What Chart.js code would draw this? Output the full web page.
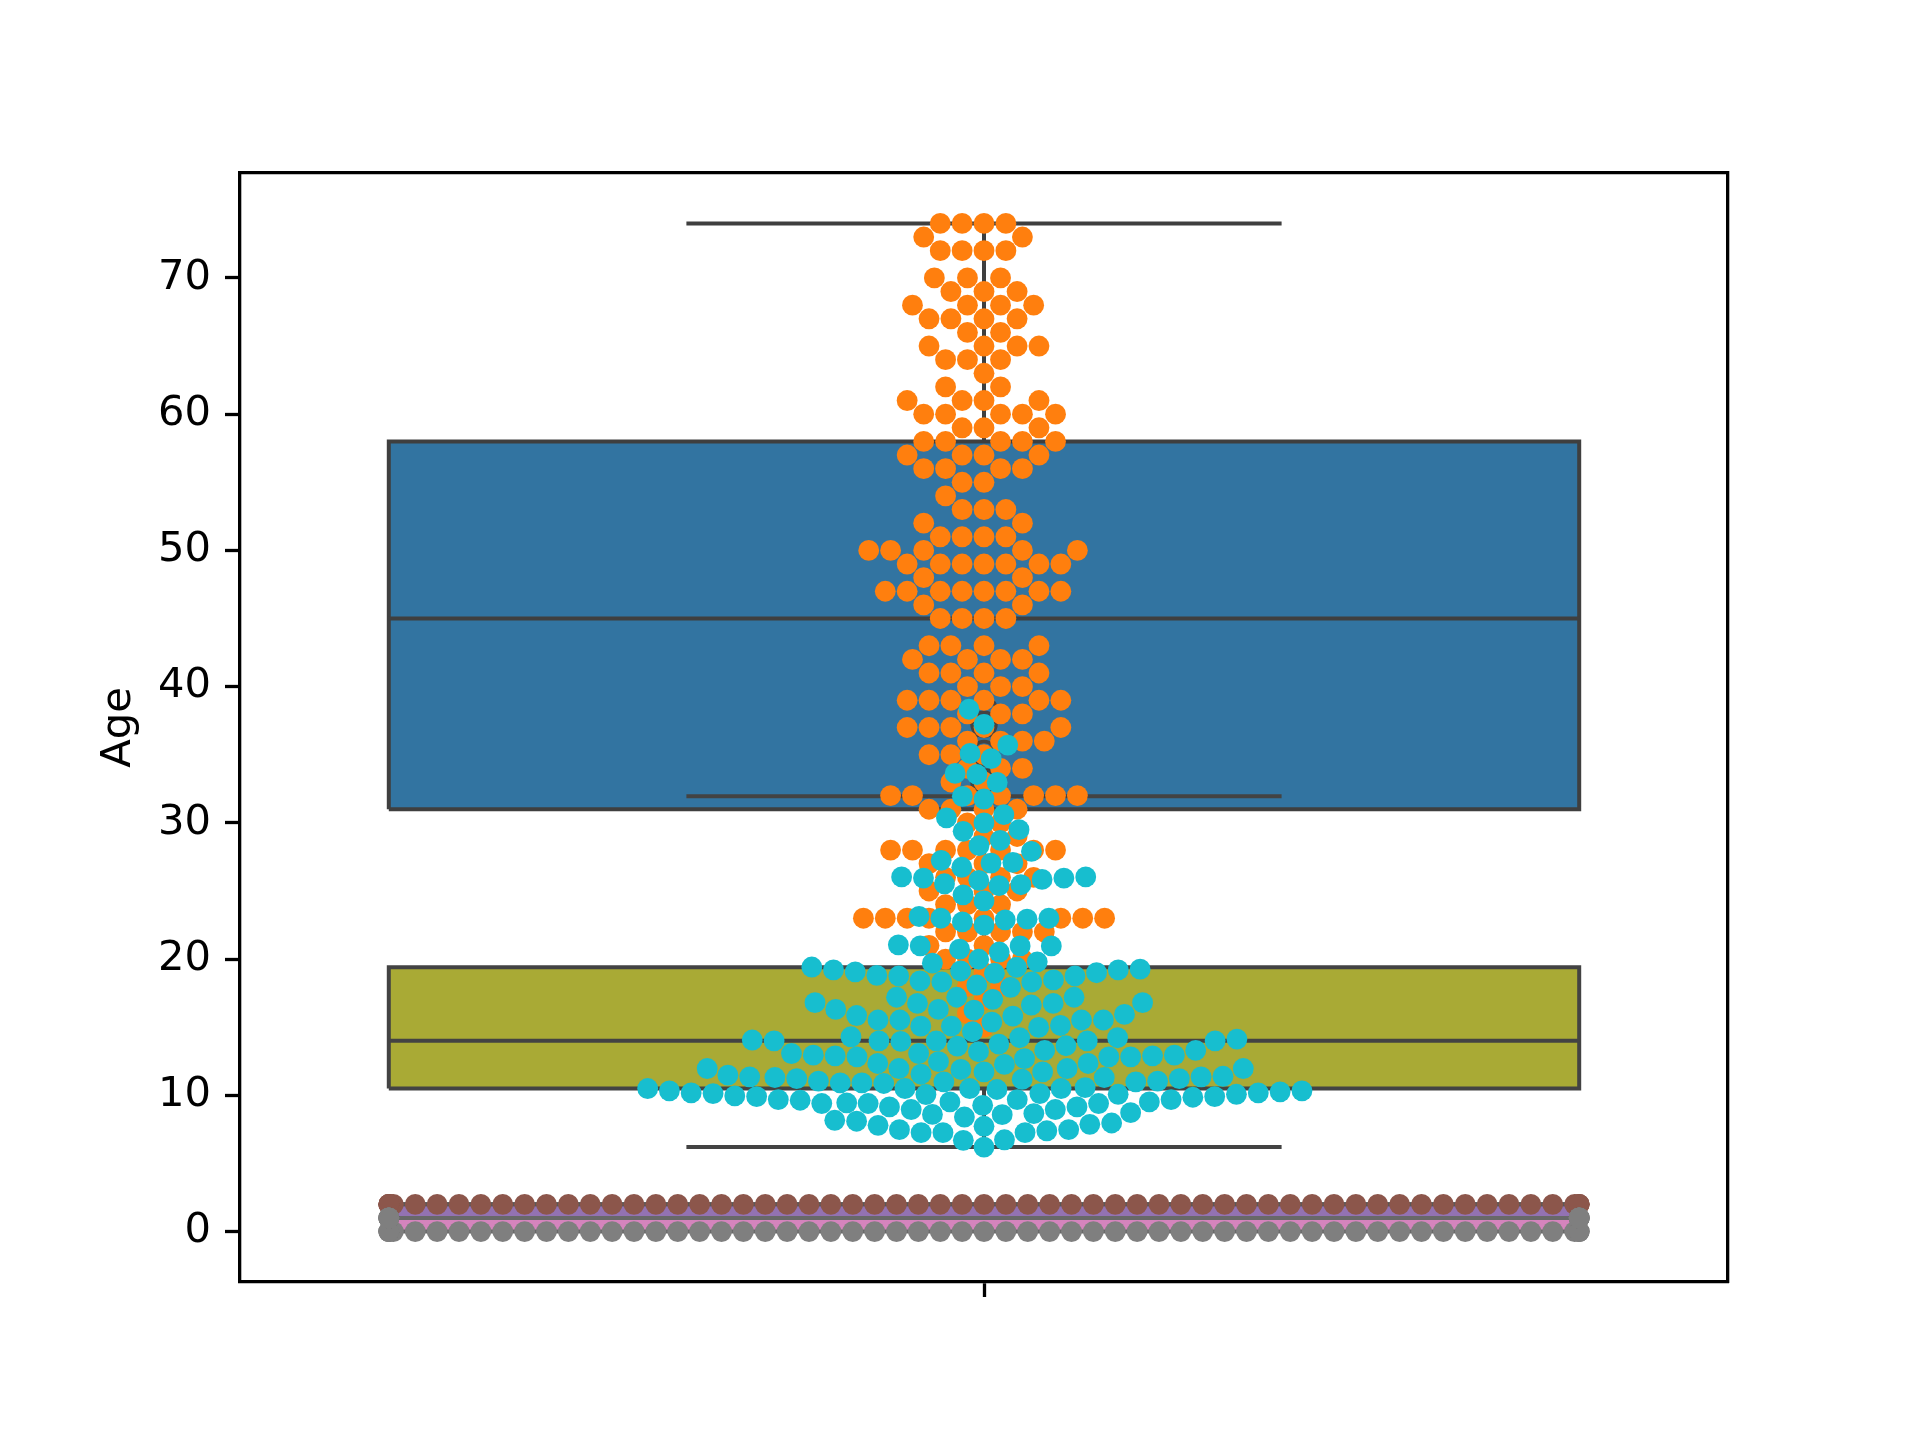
<!DOCTYPE html>
<html>
<head>
<meta charset="utf-8">
<script src="https://cdn.jsdelivr.net/npm/chart.js@4/dist/chart.umd.min.js"></script>
<style>html,body{margin:0;padding:0;background:#ffffff}canvas{display:block}</style>
</head>
<body>
<canvas id="c" width="1920" height="1440" style="width:1920px;height:1440px"></canvas>
<script>
// ---------------- data ----------------
const yTicks = [0, 10, 20, 30, 40, 50, 60, 70];
const xTickValues = [0];
const xTickLabels = [''];
const yLabel = 'Age';

// orange swarm (ages)
const orangeAges = [
  74,74,74,74, 73,73, 72,72,72,72, 70,70,70, 69,69,69, 68,68,68,68, 67,67,67,67,
  66,66, 65,65,65,65, 64,64,64, 63, 62,62, 61,61,61,61, 60,60,60,60,60, 59,59,59,
  58,58,58,58,58, 57,57,57,57, 56,56,56,56, 55,55, 54, 53,53,53, 52,52, 51,51,51,51,
  50,50,50,50,50, 49,49,49,49,49,49,49, 48,48, 47,47,47,47,47,47,47,47, 46,46,
  45,45,45,45, 43,43,43,43, 42,42,42,42, 41,41,41,41, 40,40,40, 39,39,39,39,39,39,
  38,38,38, 37,37,37,37,37, 36,36,36,36, 35,35,35, 34,34,34, 33,33,
  32,32,32,32,32,32,32, 31,31,31,31, 30,30, 29,29, 28,28,28,28,28,28,28,
  27,27,27, 26,26,26,26, 25,25,25, 24,24,24, 23,23,23,23,23,23,23,23,
  22,22,22,22,22, 21,21, 20,20,20,20, 19, 18,18, 17, 16, 15
];

// brown swarm
const brownValues = [
  2,2,2,2,2,2,2,2,2,2, 2,2,2,2,2,2,2,2,2,2, 2,2,2,2,2,2,2,2,2,2,
  2,2,2,2,2,2,2,2,2,2, 2,2,2,2,2,2,2,2,2,2, 2,2,2,2,2,2,2,2,2,2, 2,2
];

// gray swarm
const grayValues = [
  0,0,0,0,0,0,0,0,0,0, 0,0,0,0,0,0,0,0,0,0, 0,0,0,0,0,0,0,0,0,0,
  0,0,0,0,0,0,0,0,0,0, 0,0,0,0,0,0,0,0,0,0, 0,0,0,0,0,0,0,0,0,0, 0,0,
  1,1,1,1,1,1,1,1,1,1
];

// cyan swarm
const cyanValues = [
  38.34, 37.23, 35.71, 35.10, 34.71, 33.63, 33.55, 32.97, 31.95, 31.75,
  30.60, 30.37, 30.00, 29.50, 29.38, 28.72, 28.33, 27.91, 27.25, 27.10,
  27.05, 26.74, 26.03, 25.95, 25.53, 25.78, 25.39, 25.46, 25.85, 25.95,
  26.03, 24.72, 24.28, 23.13, 23.00, 22.73, 22.50, 22.88, 22.93, 23.00,
  20.97, 20.73, 20.97, 20.52, 20.97, 21.05, 19.99, 19.80, 19.42, 19.70,
  19.26, 19.21, 19.00, 18.96, 18.81, 18.47, 18.32, 18.32, 17.93, 18.10,
  18.40, 18.76, 18.76, 19.06, 19.13, 19.21, 19.40,
  17.20, 17.20, 17.05, 16.80, 16.75, 16.31, 16.26, 16.63, 16.75, 16.80, 17.20, 16.31,
  15.94, 15.82, 15.53, 15.38, 15.08, 15.08, 14.67, 15.53, 14.99, 15.13, 15.53, 15.53, 15.86,
  14.23, 14.00, 14.23, 14.00, 14.00, 13.61, 13.07, 13.96, 13.30, 12.95, 13.76, 12.83,
  13.30, 13.64, 14.00, 14.13, 14.30, 14.00, 14.06,
  13.20, 12.95, 12.83, 12.90, 12.47, 12.34, 12.34, 11.72, 11.97, 12.27, 12.70, 12.90, 12.83, 13.07,
  11.90, 11.55, 11.40, 11.23, 11.72, 11.97,
  11.97, 11.36, 11.31, 11.23, 11.04, 10.99, 10.99, 10.87, 10.50, 10.13, 10.91, 10.33,
  10.50, 10.18, 10.33, 10.91, 10.50, 11.04, 11.18, 11.31, 11.36, 11.48, 11.97,
  10.50, 10.18, 10.06, 9.96, 9.91, 9.69, 9.64, 9.52, 9.45, 9.40, 9.15, 8.96, 8.58, 9.40,
  9.27, 9.86, 10.08, 10.26, 9.40, 9.15, 9.52, 9.69, 9.69, 9.91, 10.08, 10.13, 10.43, 10.57,
  8.17, 8.10, 7.87, 7.48, 7.40, 7.26, 8.41, 7.73, 8.60, 8.66, 8.73, 8.96, 7.97, 7.80,
  7.48, 7.26, 7.26, 6.74, 6.70, 6.20
];

// box plots (drawn in this order)
const boxNames = ['blue', 'purple', 'pink', 'olive'];
const boxQ1 = [31, 1, 0, 10.5];
const boxMedian = [45, 2, 1, 14];
const boxQ3 = [58, 2, 1, 19.4];
const boxLow = [15, 1, 0, 6.2];
const boxHigh = [74, 2, 1, 31.95];
const boxFill = ['#3274a1', '#9372b2', '#d584bd', '#a9aa35'];
const boxLine = ['#3f3f3f', '#585858', '#686868', '#434343'];

// swarms (drawn in this order, above all boxes)
const swarmNames = ['orange', 'brown', 'gray', 'cyan'];
const swarmValues = [orangeAges, brownValues, grayValues, cyanValues];
const swarmColors = ['#ff7f0e', '#8c564b', '#7f7f7f', '#17becf'];

// ---------------- styling ----------------
const LW = 4;              // box line width
const PT_R = 10.4167;      // swarm point radius (5pt marker @300dpi)
const BOX_HALF = 0.4;
const CAP_HALF = 0.2;
const FONT = {family: 'DejaVu Sans', size: 41.67};

function lineDs(points, color, width, extra) {
  return Object.assign({
    type: 'line', data: points, borderColor: color, borderWidth: width,
    pointRadius: 0, pointHoverRadius: 0, fill: false, tension: 0,
    borderCapStyle: 'butt', borderJoinStyle: 'miter',
    xAxisID: 'x', yAxisID: 'y'
  }, extra || {});
}

const layers = [];
for (let b = 0; b < boxNames.length; b++) {
  const c = boxLine[b];
  if (boxHigh[b] !== boxQ3[b]) {
    layers.push(lineDs([{x: 0, y: boxQ3[b]}, {x: 0, y: boxHigh[b]}], c, LW));
    layers.push(lineDs([{x: -CAP_HALF, y: boxHigh[b]}, {x: CAP_HALF, y: boxHigh[b]}], c, LW));
  }
  if (boxLow[b] !== boxQ1[b]) {
    layers.push(lineDs([{x: 0, y: boxQ1[b]}, {x: 0, y: boxLow[b]}], c, LW));
    layers.push(lineDs([{x: -CAP_HALF, y: boxLow[b]}, {x: CAP_HALF, y: boxLow[b]}], c, LW));
  }
  layers.push(lineDs([{x: -BOX_HALF, y: boxQ3[b]}, {x: BOX_HALF, y: boxQ3[b]}], 'rgba(0,0,0,0)', 0,
    {fill: {value: boxQ1[b]}, backgroundColor: boxFill[b]}));
  layers.push(lineDs([
    {x: -BOX_HALF, y: boxQ1[b]}, {x: BOX_HALF, y: boxQ1[b]},
    {x: BOX_HALF, y: boxQ3[b]}, {x: -BOX_HALF, y: boxQ3[b]},
    {x: -BOX_HALF, y: boxQ1[b]}], c, LW));
  layers.push(lineDs([{x: -BOX_HALF, y: boxMedian[b]}, {x: BOX_HALF, y: boxMedian[b]}], c, LW));
  if (b === 3) {
    const fl = cyanValues.filter(v => v > boxHigh[b] || v < boxLow[b]).map(v => ({x: 0, y: v}));
    layers.push({type: 'scatter', data: fl, pointStyle: 'circle', pointRadius: 12,
      pointHoverRadius: 12, backgroundColor: 'rgba(0,0,0,0)', borderColor: c,
      borderWidth: 3.5, xAxisID: 'x', yAxisID: 'y'});
  }
}
const swarmDs = [];
for (let s = 0; s < swarmNames.length; s++) {
  const ds = {type: 'scatter', data: [], pointStyle: 'circle', pointRadius: PT_R,
    pointHoverRadius: PT_R, backgroundColor: swarmColors[s], borderWidth: 0,
    xAxisID: 'x', yAxisID: 'y'};
  swarmDs.push(ds);
  layers.push(ds);
}
layers.forEach((d, i) => { d.order = layers.length - i; });

const chart = new Chart(document.getElementById('c'), {
  type: 'scatter',
  data: {datasets: layers},
  options: {
    responsive: false, animation: false, devicePixelRatio: 1, events: [],
    layout: {padding: {left: 0, right: 192, top: 173, bottom: 0}},
    plugins: {legend: {display: false}, tooltip: {enabled: false}},
    scales: {
      x: {
        type: 'linear', position: 'bottom', min: -0.5, max: 0.5,
        afterBuildTicks: s => { s.ticks = xTickValues.map(v => ({value: v})); },
        afterFit: s => { s.height = 158; },
        ticks: {font: FONT, color: '#000', callback: (v, i) => xTickLabels[i] || '', autoSkip: false, maxRotation: 0},
        grid: {display: true, drawOnChartArea: false, drawTicks: true, tickLength: 15, tickWidth: 3.3, tickColor: '#000'},
        border: {display: true, color: '#000', width: 3.3}
      },
      y: {
        type: 'linear', position: 'left', min: -3.7, max: 77.7,
        afterBuildTicks: s => { s.ticks = yTicks.map(v => ({value: v})); },
        afterFit: s => { s.width = 240; },
        ticks: {font: FONT, color: '#000', padding: 14, callback: v => String(v), autoSkip: false},
        grid: {display: true, drawOnChartArea: false, drawTicks: true, tickLength: 15, tickWidth: 3.3, tickColor: '#000'},
        border: {display: true, color: '#000', width: 3.3},
        title: {display: true, text: yLabel, font: FONT, color: '#000', padding: {top: 94, bottom: 0}}
      },
      x2: {
        type: 'linear', position: 'top', display: true,
        ticks: {display: false},
        grid: {display: true, drawOnChartArea: false, drawTicks: false},
        border: {display: true, color: '#000', width: 3.3},
        afterFit: s => { s.height = 0; }
      },
      y2: {
        type: 'linear', position: 'right', display: true,
        ticks: {display: false},
        grid: {display: true, drawOnChartArea: false, drawTicks: false},
        border: {display: true, color: '#000', width: 3.3},
        afterFit: s => { s.width = 0; }
      }
    }
  }
});

// ---------------- beeswarm layout (seaborn-like) ----------------
function placeSwarm(values) {
  const xs = chart.scales.x, ys = chart.scales.y;
  const mid = xs.getPixelForValue(0);
  const r = PT_R, sep = 2 * r, sep2 = sep * sep;
  const pts = values.map((v, i) => ({i, v, u: -ys.getPixelForValue(v)}));
  pts.sort((a, b) => a.u - b.u);
  const swarm = [];
  for (const p of pts) {
    const nb = [];
    for (let k = swarm.length - 1; k >= 0; k--) {
      if (p.u - swarm[k].u < sep) nb.push(swarm[k]); else break;
    }
    let chosen = mid;
    if (nb.length) {
      const cands = [mid];
      let leftFirst = true;
      for (const q of nb) {
        const dy = p.u - q.u;
        const dx = Math.sqrt(Math.max(sep2 - dy * dy, 0)) * 1.05;
        if (leftFirst) cands.push(q.x - dx, q.x + dx); else cands.push(q.x + dx, q.x - dx);
        leftFirst = !leftFirst;
      }
      const ord = cands.map(x => ({x, off: Math.abs(x - mid)}));
      ord.sort((a, b) => (Math.abs(a.off - b.off) > 1e-6 ? a.off - b.off : a.x - b.x));
      chosen = null;
      for (const c of ord) {
        let ok = true;
        for (const q of nb) {
          const ddx = q.x - c.x, ddy = q.u - p.u;
          if (ddx * ddx + ddy * ddy < sep2 - 1e-6) { ok = false; break; }
        }
        if (ok) { chosen = c.x; break; }
      }
      if (chosen === null) chosen = mid;
    }
    swarm.push({x: chosen, u: p.u, i: p.i, v: p.v});
  }
  return swarm.map(s => {
    let xv = xs.getValueForPixel(s.x);
    if (xv < -BOX_HALF) xv = -BOX_HALF;
    if (xv > BOX_HALF) xv = BOX_HALF;
    return {x: xv, y: s.v};
  });
}

swarmDs.forEach((ds, s) => { ds.data = placeSwarm(swarmValues[s]); });
chart.update('none');
</script>
</body>
</html>
